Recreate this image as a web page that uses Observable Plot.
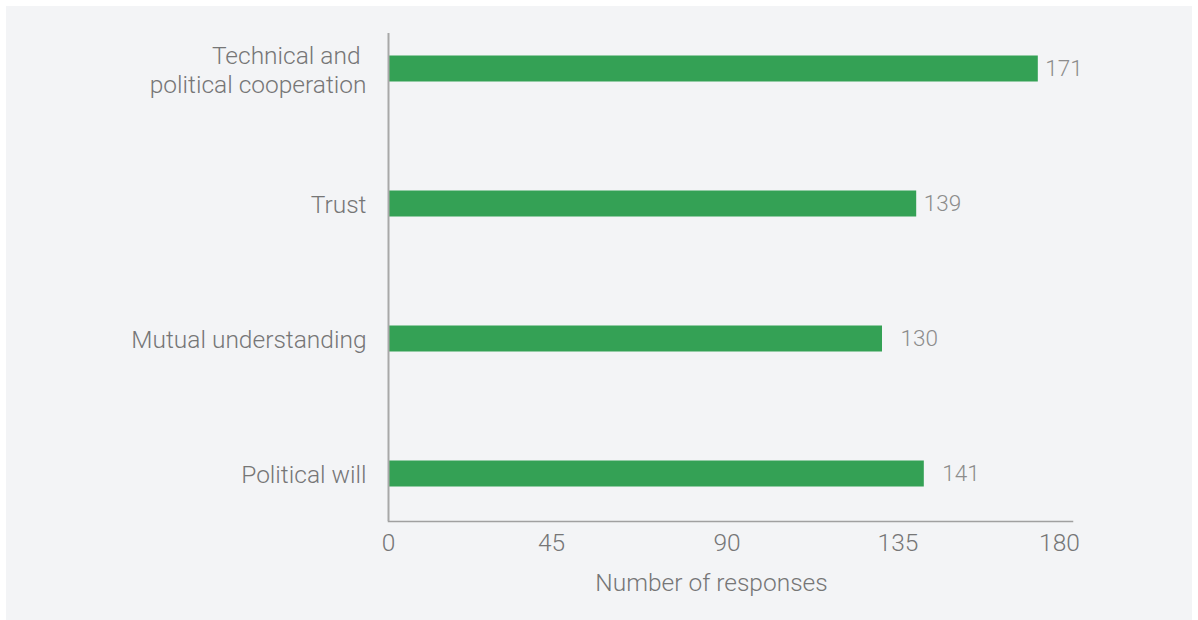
<!DOCTYPE html>
<html>
<head>
<meta charset="utf-8">
<script src="https://cdn.jsdelivr.net/npm/d3@7"></script>
<script src="https://cdn.jsdelivr.net/npm/@observablehq/plot@0.6"></script>
<style>
  html, body { margin: 0; padding: 0; background: #ffffff; }
  #panel { position: absolute; left: 6px; top: 6px; width: 1186px; height: 614px; background: #f3f4f6; }
  #panel svg { display: block; }
</style>
</head>
<body>
<div id="panel"></div>
<script>
const categories = ["Technical and\u00a0\npolitical cooperation", "Trust", "Mutual understanding", "Political will"];
const responses = [171, 139, 130, 141];
const xTicks = [0, 45, 90, 135, 180];
const xLabel = "Number of responses";

const data = categories.map((c, i) => ({category: c, value: responses[i]}));

const tickStyle = {tickSize: 0, tickPadding: 12, fontSize: 24.5, fill: "#767676", label: null};

const chart = Plot.plot({
  width: 1186,
  height: 614,
  marginLeft: 382,
  marginRight: 120,
  marginTop: 27,
  marginBottom: 99,
  style: {background: "transparent", fontFamily: "Roboto", fontWeight: 300, fontSize: "24.5px", color: "#767676"},
  x: {domain: [0, 180], ticks: xTicks},
  y: {domain: categories, range: [-5.5, 534.5], padding: 0},
  marks: [
    Plot.barX(data, {x: "value", y: "category", fill: "#34a155", insetTop: 54.5, insetBottom: 54.5}),
    Plot.frame({anchor: "bottom", stroke: "#a0a0a0", strokeWidth: 1.5}),
    Plot.ruleX([0], {stroke: "#a8a8a8", strokeWidth: 2}),
    Plot.axisX({...tickStyle, ticks: xTicks.slice(0, 1)}),
    Plot.axisX({...tickStyle, ticks: xTicks.slice(1, 2), dx: -8}),
    Plot.axisX({...tickStyle, ticks: xTicks.slice(2, 4), dx: -3.5}),
    Plot.axisX({...tickStyle, ticks: xTicks.slice(4), dx: -13}),
    Plot.axisY({tickSize: 0, tickPadding: 22, fontSize: 24.5, fill: "#767676", label: null, lineHeight: 1.2}),
    Plot.text(data.slice(0, 2), {x: "value", y: "category", text: d => String(d.value), textAnchor: "start", dx: 7, fill: "#8c8c8c", fontSize: 22.5}),
    Plot.text(data.slice(2), {x: "value", y: "category", text: d => String(d.value), textAnchor: "start", dx: 18, fill: "#8c8c8c", fontSize: 22.5}),
    Plot.text([xLabel], {frameAnchor: "bottom", text: d => d, dy: 69, dx: -19, fill: "#767676", fontSize: 24.5})
  ]
});
document.getElementById("panel").appendChild(chart);
</script>
</body>
</html>
